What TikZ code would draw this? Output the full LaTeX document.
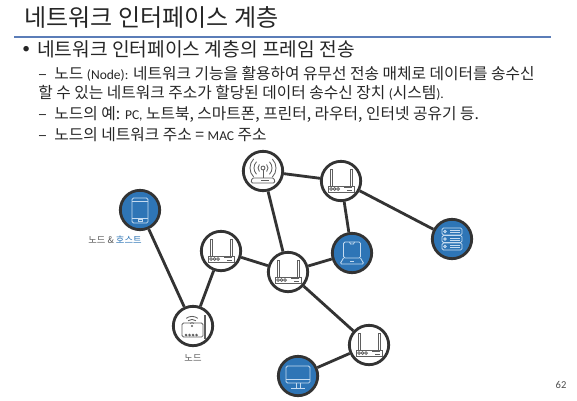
\documentclass[tikz,border=0pt]{standalone}
\usepackage{fontspec}
\setmainfont{Carlito}
\newfontfamily\kr{Noto Sans CJK KR}
\usetikzlibrary{calc}
\definecolor{hostblue}{HTML}{2E75B6}
\definecolor{rulecolor}{HTML}{5B7DB8}
\definecolor{edgegray}{HTML}{333333}
\definecolor{icongray}{HTML}{5F5F5F}
\definecolor{iconpale}{HTML}{C5DBF0}
\tikzset{
	dev/.style={circle, draw=edgegray, line width=2pt, minimum size=28pt, inner sep=0pt, fill=white},
	host/.style={dev, fill=hostblue},
	link/.style={draw=edgegray, line width=2pt},
	ic/.style={draw=icongray, line width=0.6pt},
	icw/.style={draw=iconpale, line width=0.6pt},
	textline/.style={anchor=west, inner sep=0pt, text=black!85},
	subline/.style={textline, font=\kr\fontsize{11.2}{13}\selectfont}
}
\newcommand{\latin}[1]{{\normalfont\fontsize{9.6}{12}\selectfont #1}}
\newcommand{\routericon}[1] % name of the node
{
	% antennas
	\draw[ic] ($(#1)+(-11,-12)$) rectangle ++(2,17);
	\draw[ic] ($(#1)+(9,-12)$) rectangle ++(2,17);
	% body
	\draw[ic, fill=white] ($(#1)+(-13,5)$) rectangle ++(26,6);
	\foreach \i in {-10,-6.5,-3}
		\draw[ic] ($(#1)+(\i,8)$) circle (1.4);
	\draw[ic] ($(#1)+(3,6.8)$) -- ++(8,0);
	\draw[ic] ($(#1)+(6,9)$) -- ++(5,0);
}
\newcommand{\wifiicon}[1] % name of the node
{
	\draw[ic] ($(#1)+(0,-3)$) -- ++(0,10);
	\draw[ic, fill=white] ($(#1)+(0,-3)$) circle (2);
	\foreach \r in {5,9,13}
	{
		\draw[ic] ($(#1)+(\r*0.72,-3-\r*0.69)$) arc (-44:44:\r);
		\draw[ic] ($(#1)+(-\r*0.72,-3+\r*0.69)$) arc (136:224:\r);
	}
	% base
	\draw[ic, rounded corners=1pt] ($(#1)+(-12,12)$) -- ++(24,0) -- ++(-1,-5) -- ++(-22,0) -- cycle;
	\draw[ic] ($(#1)+(-2,9.5)$) -- ++(8,0);
}
\newcommand{\homeicon}[1] % name of the node
{
	\draw[ic, rounded corners=1pt] ($(#1)+(-11,-3)$) rectangle ++(21,14);
	\draw[ic] ($(#1)+(11,-11)$) rectangle ++(1.6,23);
	\foreach \i in {-7,-3.5,0,3.5}
		\draw[ic] ($(#1)+(\i,9)$) circle (0.9);
	\draw[ic] ($(#1)+(-1,0)$) circle (0.5);
	\foreach \r in {3.3,6.6,9.6}
		\draw[ic] ($(#1)+(-1-\r*0.6,-\r*0.8)$) arc (233:307:\r);
}
\newcommand{\phoneicon}[1] % name of the node
{
	\draw[icw, rounded corners=1pt] ($(#1)+(-8,-12)$) rectangle ++(16,25);
	\draw[icw] ($(#1)+(-8,-9)$) -- ++(16,0);
	\draw[icw] ($(#1)+(-8,8)$) -- ++(16,0);
	\draw[icw] ($(#1)+(-2,9.5)$) rectangle ++(4,2);
}
\newcommand{\laptopicon}[1] % name of the node
{
	\draw[icw, rounded corners=1pt] ($(#1)+(-8.5,-11)$) rectangle ++(17,16);
	\draw[icw] ($(#1)+(-2.5,-11)$) -- ++(1,2) -- ++(3,0) -- ++(1,-2);
	\draw[icw, rounded corners=1pt] ($(#1)+(-8.5,5)$) -- ++(-3.5,6) -- ++(24,0) -- ++(-3.5,-6);
	\draw[icw] ($(#1)+(-2,8.5)$) -- ++(4,0);
}
\newcommand{\servericon}[1] % name of the node
{
	\foreach \i in {-11,-3.5,4}
	{
		\draw[icw, rounded corners=1pt] ($(#1)+(-10,\i)$) rectangle ++(20,7);
		\draw[icw] ($(#1)+(-7,\i+3.5)$) circle (1.2);
		\draw[icw] ($(#1)+(-2,\i+2.5)$) -- ++(10,0);
		\draw[icw] ($(#1)+(-2,\i+4.5)$) -- ++(10,0);
	}
}
\newcommand{\monitoricon}[1] % name of the node
{
	\draw[icw, rounded corners=1pt] ($(#1)+(-12,-10)$) rectangle ++(24,17);
	\draw[icw] ($(#1)+(-12,3.5)$) -- ++(24,0);
	\draw[icw] ($(#1)+(-2,7)$) -- ++(0,5);
	\draw[icw] ($(#1)+(2,7)$) -- ++(0,5);
	\draw[icw] ($(#1)+(-7,12)$) -- ++(14,0);
}

\begin{document}
\begin{tikzpicture}[x=0.025cm, y=-0.025cm]
	\useasboundingbox (0, 0) rectangle (577, 400);
	% heading
	\node[textline, font=\kr\fontsize{17.1}{20}\selectfont] (title) at (24, 17) {네트워크 인터페이스 계층};
	\coordinate (ruleL) at (14, 37);
	\coordinate (ruleR) at (551, 37);
	\draw[rulecolor, line width=0.9pt] (ruleL) -- (ruleR);
	% body text
	\node[textline, font=\fontsize{11}{13}\selectfont] (bullet) at (22, 50) {•};
	\node[textline, font=\kr\fontsize{13.65}{16}\selectfont] (head) at (37, 49) {네트워크 인터페이스 계층의 프레임 전송};
	\node[subline] (lineA) at (38, 74) {–\hspace{3pt} 노드 \latin{(Node):} 네트워크 기능을 활용하여 유무선 전송 매체로 데이터를 송수신};
	\node[subline] (lineB) at (38, 93) {할 수 있는 네트워크 주소가 할당된 데이터 송수신 장치 \latin{(}시스템\latin{).}};
	\node[subline] (lineC) at (38, 114) {–\hspace{3pt} 노드의 예: \latin{PC,} 노트북, 스마트폰, 프린터, 라우터, 인터넷 공유기 등.};
	\node[subline] (lineD) at (38, 135) {–\hspace{3pt} 노드의 네트워크 주소 = \latin{MAC} 주소};
	% devices
	\node[host] (phone) at (140, 210) {};
	\node[dev] (ap) at (263, 171) {};
	\node[dev] (top) at (341, 181) {};
	\node[host] (laptop) at (352, 253) {};
	\node[host] (server) at (452, 239) {};
	\node[dev] (left) at (221, 251) {};
	\node[dev] (mid) at (288, 272) {};
	\node[dev] (low) at (369, 345) {};
	\node[host] (monitor) at (298, 376) {};
	\node[dev] (home) at (193, 326) {};
	% links
	\draw[link] (phone) -- (home);
	\draw[link] (left) -- (home);
	\draw[link] (left) -- (mid);
	\draw[link] (ap) -- (mid);
	\draw[link] (ap) -- (top);
	\draw[link] (top) -- (laptop);
	\draw[link] (top) -- (server);
	\draw[link] (mid) -- (laptop);
	\draw[link] (mid) -- (low);
	\draw[link] (low) -- (monitor);
	% icons
	\phoneicon{phone};
	\wifiicon{ap};
	\routericon{top};
	\routericon{left};
	\routericon{mid};
	\routericon{low};
	\laptopicon{laptop};
	\servericon{server};
	\monitoricon{monitor};
	\homeicon{home};
	% labels
	\node[font=\kr\fontsize{6.6}{8}\selectfont, text=black!65] (hostlabel) at (115, 240) {노드 \& \textcolor{hostblue}{호스트}};
	\node[font=\kr\fontsize{6.6}{8}\selectfont, text=black!65] (homelabel) at (193, 358) {노드};
	\node[font=\fontsize{7.5}{9}\selectfont, text=black!70] (pagenum) at (561, 385) {62};
\end{tikzpicture}
\end{document}
